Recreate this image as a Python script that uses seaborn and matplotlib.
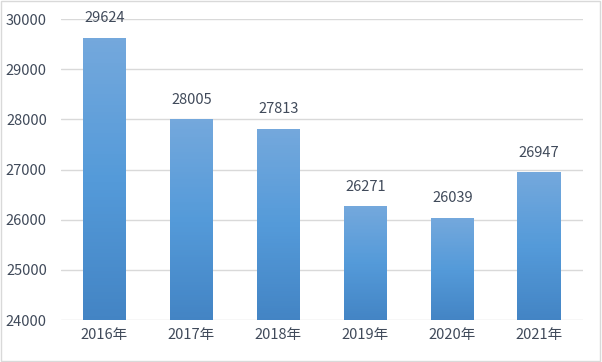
import matplotlib
matplotlib.use("Agg")
import matplotlib.pyplot as plt
import seaborn as sns
import numpy as np
import pandas as pd
from matplotlib.colors import to_rgb
from matplotlib.patches import Rectangle

years = ["2016年", "2017年", "2018年", "2019年", "2020年", "2021年"]
values = [29624, 28005, 27813, 26271, 26039, 26947]
yticks = [24000, 25000, 26000, 27000, 28000, 29000, 30000]

sns.set_theme(style="white")
plt.rcParams['font.family'] = ['Noto Sans CJK SC', 'DejaVu Sans']

df = pd.DataFrame({"year": years, "value": values})

fig = plt.figure(figsize=(6.02, 3.62), dpi=100)
ax = fig.add_axes([0.101, 0.116, 0.867, 0.8315])

sns.barplot(data=df, x="year", y="value", color="#5B9BD5", saturation=1, width=0.5, ax=ax, zorder=2)

ax.set_ylim(24000, 30000)
ax.set_xlim(-0.5, 5.5)
ax.set_yticks(yticks)
ax.yaxis.grid(True, color="#d9d9d9", linewidth=1, zorder=0)
ax.set_axisbelow(True)
for s in ax.spines.values():
    s.set_visible(False)
ax.set_xlabel("")
ax.set_ylabel("")
ax.tick_params(axis="both", length=0, labelsize=10.5, colors="#404a5a")
ax.tick_params(axis="x", pad=6)
ax.tick_params(axis="y", pad=10)

bottom_c = np.array(to_rgb("#4384c4"))
mid_c = np.array(to_rgb("#549ad9"))
top_c = np.array(to_rgb("#74a8dc"))

def grad_color(tt):
    if tt < 0.5:
        return bottom_c + (mid_c - bottom_c) * (tt / 0.5)
    return mid_c + (top_c - mid_c) * ((tt - 0.5) / 0.5)

ymin = 24000
for p, v in zip(list(ax.patches), values):
    x0 = p.get_x()
    w = p.get_width()
    p.set_visible(False)
    h = v - ymin
    n = 80
    dh = h / n
    for k in range(n):
        c = grad_color((k + 0.5) / n)
        ax.add_patch(Rectangle((x0, ymin + k * dh), w, dh * 1.02, facecolor=c,
                               edgecolor="none", linewidth=0, antialiased=False, zorder=3))
    ax.annotate(f"{v}", (x0 + w / 2, v), xytext=(0, 14), textcoords="offset points",
                ha="center", va="center", fontsize=10.5, color="#404a5a")

ax.set_xlim(-0.5, 5.5)
ax.set_ylim(24000, 30000)

fig.patches.append(Rectangle((0.002, 0.003), 0.995, 0.994, transform=fig.transFigure,
                             fill=False, edgecolor="#d9d9d9", linewidth=1))

fig.savefig("out.png", dpi=100)
